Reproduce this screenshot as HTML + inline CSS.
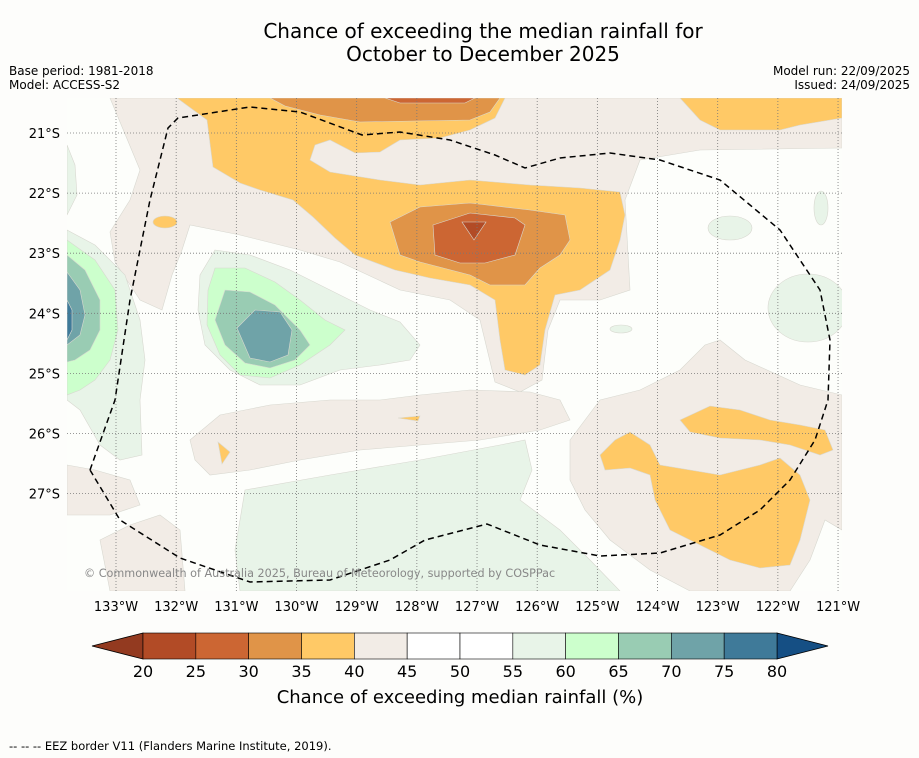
<!DOCTYPE html>
<html><head><meta charset="utf-8"><style>
body{margin:0;background:#fdfdfb;font-family:"DejaVu Sans","Liberation Sans",sans-serif;}
svg{display:block}
</style></head><body>
<svg id="chart" width="919" height="758" viewBox="0 0 919 758" xmlns="http://www.w3.org/2000/svg" font-family="DejaVu Sans, Liberation Sans, sans-serif">
<rect width="919" height="758" fill="#fdfdfb"/>
<text x="483" y="38" font-size="20" text-anchor="middle">Chance of exceeding the median rainfall for</text>
<text x="483" y="61" font-size="20" text-anchor="middle">October to December 2025</text>
<text x="9" y="75" font-size="12">Base period: 1981-2018</text>
<text x="9" y="89" font-size="12">Model: ACCESS-S2</text>
<text x="910" y="75" font-size="12" text-anchor="end">Model run: 22/09/2025</text>
<text x="910" y="89" font-size="12" text-anchor="end">Issued: 24/09/2025</text>
<defs><clipPath id="mc"><rect x="67" y="98" width="775" height="493"/></clipPath></defs>
<g clip-path="url(#mc)" stroke="#d8d8d0" stroke-width="0.6">
<rect x="67" y="98" width="775" height="493" fill="#fdfefb" stroke="none"/>
<path fill="#f2ece6" d="M110,98 L842,98 L842,148 L700,150 L640,160 L625,200 L630,290 L600,300 L560,300 L548,330 L542,380 L520,392 L495,382 L480,320 L450,300 L400,290 L340,262 L300,250 L240,235 L190,225 L182,250 L172,275 L162,310 L140,300 L115,262 L110,232 L130,200 L140,170 Z"/>
<path fill="#f2ece6" d="M190,440 L220,415 L270,405 L330,400 L380,400 L420,395 L470,390 L530,392 L560,400 L570,420 L540,430 L480,440 L420,445 L360,450 L300,460 L250,470 L210,475 L195,460 Z"/>
<path fill="#f2ece6" d="M570,440 L600,400 L640,390 L680,370 L705,345 L720,340 L745,360 L800,385 L842,395 L842,530 L825,520 L810,560 L790,591 L690,591 L650,570 L610,540 L585,510 L570,480 Z"/>
<path fill="#f2ece6" d="M67,465 L95,470 L130,480 L140,505 L110,515 L67,515 Z"/>
<path fill="#f2ece6" d="M100,540 L130,525 L160,515 L180,530 L185,591 L110,591 Z"/>
<path fill="#e8f4e8" d="M245,490 L330,475 L420,460 L500,445 L525,440 L532,470 L520,500 L560,530 L590,560 L620,591 L240,591 L235,550 Z"/>
<path fill="#e8f4e8" d="M67,145 L75,165 L77,195 L67,215 Z"/>
<ellipse cx="808" cy="308" rx="40" ry="34" fill="#e8f4e8"/>
<ellipse cx="730" cy="228" rx="22" ry="12" fill="#e8f4e8"/>
<ellipse cx="821" cy="208" rx="7" ry="17" fill="#e8f4e8"/>
<ellipse cx="621" cy="329" rx="11" ry="4" fill="#e8f4e8"/>
<path fill="#e8f4e8" d="M67,230 L95,245 L125,275 L140,320 L145,360 L140,400 L142,455 L120,460 L100,445 L80,410 L67,400 Z"/>
<path fill="#ccffcc" d="M67,240 L95,260 L115,290 L118,330 L110,360 L95,380 L80,390 L67,395 Z"/>
<path fill="#99ccb3" d="M67,255 L85,270 L100,300 L100,330 L90,350 L75,360 L67,362 Z"/>
<path fill="#6fa3a8" d="M67,272 L80,290 L85,315 L80,335 L67,345 Z"/>
<path fill="#3f7a99" d="M67,300 L72,310 L72,330 L67,340 Z"/>
<path fill="#e8f4e8" d="M215,250 L250,255 L290,270 L330,290 L370,310 L400,322 L420,345 L410,360 L380,365 L340,370 L300,385 L260,385 L230,370 L205,345 L198,310 L200,275 Z"/>
<path fill="#ccffcc" d="M215,268 L245,268 L275,282 L300,300 L325,320 L345,330 L330,345 L300,365 L270,378 L240,375 L220,355 L207,325 L208,290 Z"/>
<path fill="#99ccb3" d="M225,290 L250,292 L275,305 L300,330 L310,345 L295,360 L270,368 L245,363 L225,345 L215,320 Z"/>
<path fill="#6fa3a8" d="M237,328 L255,310 L280,312 L292,330 L288,355 L270,362 L250,358 Z"/>
<path fill="#ffc966" d="M177,98 L505,98 L495,118 L470,130 L440,138 L400,140 L380,152 L355,153 L330,140 L315,145 L310,160 L330,172 L380,180 L420,185 L470,180 L530,185 L580,188 L620,192 L625,215 L620,240 L610,270 L580,290 L555,295 L545,330 L540,365 L525,375 L505,370 L500,340 L495,300 L470,285 L430,278 L395,270 L355,255 L335,238 L313,217 L293,200 L260,190 L240,183 L213,167 L207,120 Z"/>
<path fill="#ffc966" d="M680,98 L842,98 L842,118 L800,125 L780,130 L720,130 L700,120 Z"/>
<ellipse cx="165" cy="222" rx="12" ry="6" fill="#ffc966"/>
<path fill="#ffc966" d="M218,442 L230,452 L222,464 Z"/>
<path fill="#ffc966" d="M398,418 L420,416 L418,421 Z"/>
<path fill="#ffc966" d="M600,455 L615,440 L630,432 L650,445 L660,465 L690,470 L720,475 L760,465 L780,458 L800,475 L810,500 L800,540 L790,565 L760,568 L730,560 L700,545 L670,530 L655,500 L650,475 L630,468 L605,470 Z"/>
<path fill="#ffc966" d="M680,420 L710,406 L740,410 L770,420 L800,425 L825,430 L833,450 L820,455 L790,445 L760,440 L720,438 L690,432 Z"/>
<path fill="#e09448" d="M270,98 L500,98 L490,112 L470,120 L360,122 L320,115 L285,106 Z"/>
<path fill="#cc6633" d="M385,98 L475,98 L465,103 L400,103 Z"/>
<path fill="#e09448" d="M390,222 L420,207 L470,203 L530,210 L565,215 L570,240 L560,255 L540,268 L525,285 L490,285 L470,275 L420,262 L400,255 Z"/>
<path fill="#cc6633" d="M433,225 L470,213 L515,218 L525,225 L515,255 L485,263 L460,263 L435,255 Z"/>
<path fill="#b24b26" d="M462,222 L486,222 L474,240 Z"/>
</g>
<g id="grid" stroke="#777" stroke-width="0.8" stroke-dasharray="1,2" fill="none"></g>
<path fill="none" stroke="#000" stroke-width="1.5" stroke-dasharray="6,4" d="M90,470 L115,400 L130,300 L150,200 L168,128 L178,118 L250,107 L300,112 L362,135 L400,132 L450,140 L495,155 L525,168 L560,158 L610,153 L660,160 L720,180 L780,230 L820,290 L830,340 L828,400 L815,440 L790,480 L760,510 L720,535 L660,553 L600,556 L540,545 L487,524 L425,540 L390,560 L330,580 L250,582 L180,558 L120,520 Z"/>
<text x="84" y="577" font-size="11.2" fill="#888">© Commonwealth of Australia 2025, Bureau of Meteorology, supported by COSPPac</text>
<g id="axes" font-size="13" fill="#000"></g>
<g id="cbar"></g>
<text x="460" y="703" font-size="18" text-anchor="middle">Chance of exceeding median rainfall (%)</text>
<text x="9" y="750" font-size="11.5">--  --  -- EEZ border V11 (Flanders Marine Institute, 2019).</text>
</svg>
<script>
const lonTicks=[133,132,131,130,129,128,127,126,125,124,123,122,121];
const latTicks=[21,22,23,24,25,26,27];
const cbBounds=[20,25,30,35,40,45,50,55,60,65,70,75,80];
const cbColors=["#b24b26","#cc6633","#e09448","#ffc966","#f2ece6","#ffffff","#ffffff","#e8f4e8","#ccffcc","#99ccb3","#6fa3a8","#3f7a99"];
const cbUnder="#933a20", cbOver="#154f84";
const NS="http://www.w3.org/2000/svg";
const xLon=v=>116+(133-v)*60.17;
const yLat=v=>133+(v-21)*60.1;
const xCb=v=>143+(v-20)*(634/60);
function mk(t,a,p){const e=document.createElementNS(NS,t);for(const k in a)e.setAttribute(k,a[k]);p.appendChild(e);return e;}
const grid=document.getElementById('grid'),axes=document.getElementById('axes'),cb=document.getElementById('cbar');
lonTicks.forEach(v=>{
  const l=mk('line',{x1:xLon(v),x2:xLon(v),y1:98,y2:591},grid);
  
  
  const t=mk('text',{x:xLon(v),y:611,'text-anchor':'middle'},axes);
  t.textContent=v+'°W';
  
  
});
latTicks.forEach(v=>{
  const l=mk('line',{x1:67,x2:842,y1:yLat(v),y2:yLat(v)},grid);
  
  
  const t=mk('text',{x:60,y:yLat(v)+5,'text-anchor':'end'},axes);
  t.textContent=v+'°S';
  
  
});
const y0=633,y1=659,ym=646;
const u=mk('path',{d:`M${xCb(20)},${y0} L92,${ym} L${xCb(20)},${y1} Z`,fill:cbUnder,stroke:'#000','stroke-width':0.8},cb);


const o=mk('path',{d:`M${xCb(80)},${y0} L828,${ym} L${xCb(80)},${y1} Z`,fill:cbOver,stroke:'#000','stroke-width':0.8},cb);


cbColors.forEach((c,i)=>{
  const r=mk('rect',{x:xCb(cbBounds[i]),y:y0,width:xCb(cbBounds[i+1])-xCb(cbBounds[i]),height:y1-y0,fill:c,stroke:'#000','stroke-width':0.6},cb);
  
  
});
cbBounds.forEach(v=>{
  const t=mk('text',{x:xCb(v),y:677,'text-anchor':'middle','font-size':16},cb);
  t.textContent=v;
  
  
});
</script>
</body></html>
